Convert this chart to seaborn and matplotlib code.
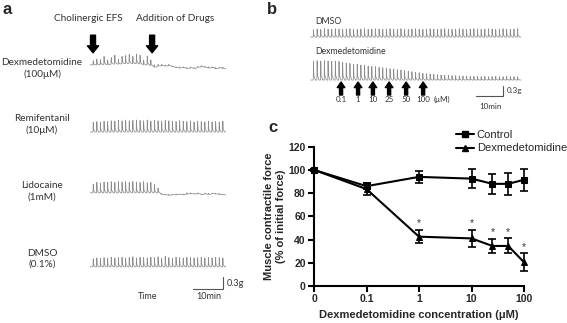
import numpy as np
import pandas as pd
import matplotlib.pyplot as plt
import seaborn as sns
from matplotlib.lines import Line2D
from matplotlib.ticker import NullLocator

# ---- panel c: dose response (mean +/- SEM, % of initial force) ----
conc = [0, 0.1, 1, 10, 25, 50, 100]
control_mean = [100, 86, 94, 92.5, 88, 88, 91.5]
control_sem = [1, 2.5, 5, 8, 8.5, 9.5, 9.5]
dex_mean = [100, 83.5, 42.5, 41, 34.5, 34.5, 20.5]
dex_sem = [1, 5, 5.5, 7, 6, 6.5, 7.5]
dex_signif = [False, False, True, True, True, True, True]
xtick_vals = [0, 0.1, 1, 10, 100]
xtick_labels = ['0', '0.1', '1', '10', '100']

# ---- panel a: organ bath traces (grams), one beat every 1.2 min ----
a_period = 1.2
a_efs_time = 1.0
a_drug_time = 20.7
a_labels = ['Dexmedetomidine\n(100\u03bcM)', 'Remifentanil\n(10\u03bcM)',
            'Lidocaine\n(1mM)', 'DMSO\n(0.1%)']
a_label_y = [5.58, 4.19, 2.51, 0.83]
a_dex_amp = [0.10, 0.14, 0.12, 0.20, 0.12, 0.16, 0.22, 0.12, 0.18, 0.20, 0.22, 0.18,
             0.24, 0.22, 0.12, 0.22, 0.14,
             0.06, 0.04, 0.03, 0.02, 0.03, 0.02, 0.02, 0.03, 0.02, 0.02, 0.03, 0.02,
             0.02, 0.03, 0.02, 0.03, 0.02, 0.03, 0.02, 0.03]
a_dex_base = [0.00, 0.00, 0.01, 0.01, 0.00, 0.02, 0.02, 0.02, 0.03, 0.03, 0.04, 0.03,
              0.03, 0.02, 0.00, 0.00, -0.02,
              -0.06, -0.03, -0.02, -0.03, -0.02, -0.05, -0.07, -0.08, -0.07, -0.09, -0.08,
              -0.09, -0.06, -0.05, -0.06, -0.08, -0.07, -0.10, -0.08, -0.09]
a_remi_amp = [0.24, 0.26, 0.25, 0.27, 0.26, 0.28, 0.27, 0.29, 0.28, 0.30, 0.28, 0.29,
              0.30, 0.29, 0.28, 0.30, 0.27, 0.29, 0.28, 0.27, 0.29, 0.28, 0.27, 0.26,
              0.28, 0.27, 0.26, 0.28, 0.25, 0.27, 0.26, 0.25, 0.27, 0.25, 0.26, 0.25, 0.27]
a_remi_base = [0.0] * 37
a_lido_amp = [0.22, 0.26, 0.24, 0.27, 0.26, 0.28, 0.26, 0.28, 0.27, 0.28, 0.26, 0.28,
              0.27, 0.26, 0.28, 0.25, 0.26, 0.22, 0.12,
              0.02, 0.01, 0.02, 0.01, 0.02, 0.01, 0.02, 0.03, 0.02, 0.01, 0.02, 0.01,
              0.02, 0.03, 0.01, 0.02, 0.02, 0.01]
a_lido_base = [0.0] * 19 + [-0.04, -0.05, -0.06, -0.05, -0.05, -0.04, -0.05, -0.03,
                            -0.02, -0.03, -0.02, -0.04, -0.03, -0.04, -0.02, -0.03,
                            -0.04, -0.05]
a_dmso_amp = [0.20, 0.22, 0.21, 0.23, 0.22, 0.24, 0.22, 0.23, 0.24, 0.22, 0.23, 0.25,
              0.22, 0.24, 0.23, 0.22, 0.24, 0.23, 0.25, 0.22, 0.26, 0.23, 0.22, 0.24,
              0.23, 0.22, 0.24, 0.23, 0.22, 0.23, 0.24, 0.22, 0.23, 0.22, 0.24, 0.23, 0.22]
a_dmso_base = [0.0] * 37
a_offsets = [5.68, 4.0, 2.48, 0.63]

# ---- panel b: cumulative dexmedetomidine (grams), one beat every 1.35 min ----
b_period = 1.35
b_dose_times = [11.5, 17.8, 23.3, 29.3, 35.6, 41.9]
b_dose_labels = ['0.1', '1', '10', '25', '50', '100']
b_dmso_amp = [0.22, 0.24, 0.23, 0.25, 0.24, 0.23, 0.25, 0.24, 0.23, 0.24, 0.25, 0.24,
              0.23, 0.24, 0.25, 0.23, 0.24, 0.25, 0.24, 0.23, 0.24, 0.25, 0.24, 0.23,
              0.25, 0.24, 0.23, 0.24, 0.25, 0.24, 0.23, 0.24, 0.25, 0.24, 0.23, 0.24,
              0.25, 0.24, 0.23, 0.24, 0.25, 0.24, 0.23, 0.24, 0.25, 0.24, 0.23, 0.24,
              0.25, 0.24, 0.23, 0.24, 0.25, 0.24, 0.23, 0.24, 0.25]
b_dex_amp = [0.57, 0.58, 0.57, 0.58, 0.57, 0.56, 0.57, 0.56,
             0.53, 0.51, 0.50, 0.48, 0.47,
             0.45, 0.44, 0.42, 0.41,
             0.40, 0.38, 0.37, 0.36,
             0.34, 0.33, 0.31, 0.30, 0.28,
             0.26, 0.25, 0.23, 0.22, 0.20,
             0.19, 0.18, 0.17, 0.16, 0.15,
             0.14, 0.14, 0.13, 0.13, 0.12,
             0.12, 0.12, 0.11, 0.11, 0.11,
             0.10, 0.11, 0.10, 0.10, 0.11, 0.10, 0.10, 0.11, 0.10, 0.10, 0.10]
b_offsets = [2.19, 0.9]


def beat_trace(amps, bases, period, t0, offset):
    # each beat: sharp twitch then slow relaxation back to baseline
    t, y = [t0 - 1.0], [offset + bases[0]]
    for i, (a, b) in enumerate(zip(amps, bases)):
        ti = t0 + i * period
        t += [ti, ti + 0.07 * period, ti + 0.16 * period, ti + 0.6 * period]
        y += [offset + b, offset + b + a, offset + b + 0.25 * a, offset + b]
    t.append(t0 + len(amps) * period)
    y.append(offset + bases[-1])
    return t, y


sns.set_style('ticks')
plt.rcParams['font.family'] = ['Liberation Sans', 'DejaVu Sans']
W, H = 567, 323
fig = plt.figure(figsize=(5.67, 3.23), dpi=100)
trace_font = ['Lato', 'DejaVu Sans']
trace_col = '#8c8c8c'
txt_col = '#333333'


def px_axes(x0, x1, y0, y1):
    # axes placed by pixel box (top-left origin)
    return fig.add_axes([x0 / W, 1 - y1 / H, (x1 - x0) / W, (y1 - y0) / H])


# ---------------- panel a ----------------
axa = px_axes(90, 226, 0, 323)
axa.set_xlim(0, 136 / 3)
axa.set_ylim(-31 / 40, 292 / 40)
axa.axis('off')
a_series = [(a_dex_amp, a_dex_base), (a_remi_amp, a_remi_base),
            (a_lido_amp, a_lido_base), (a_dmso_amp, a_dmso_base)]
for (amps, bases), off, lab, ly in zip(a_series, a_offsets, a_labels, a_label_y):
    t, y = beat_trace(amps, bases, a_period, 1.0, off)
    axa.plot(t, y, color=trace_col, lw=0.55)
    axa.annotate(lab, xy=(42 / W, ly), xycoords=('figure fraction', 'data'),
                 ha='center', va='center', fontsize=7.2, family=trace_font,
                 color=txt_col, linespacing=1.35, annotation_clip=False)
for tt in [a_efs_time, a_drug_time]:
    axa.annotate('', xy=(tt, 5.98), xytext=(tt, 6.42),
                 arrowprops=dict(arrowstyle='simple,head_width=0.8,head_length=0.5,tail_width=0.36',
                                 color='black', shrinkA=0, shrinkB=0), annotation_clip=False)
axa.text(-0.7, 6.83, 'Cholinergic EFS', ha='center', va='center', fontsize=7.2,
         family=trace_font, color=txt_col)
axa.text(28.5, 6.83, 'Addition of Drugs', ha='center', va='center', fontsize=7.2,
         family=trace_font, color=txt_col)
# scale bar
axa.plot([34.3, 44.3, 44.3], [0.075, 0.075, 0.375], color='#555555', lw=0.8)
axa.text(45.6, 0.2, '0.3g', ha='left', va='center', fontsize=6.5, family=trace_font,
         color=txt_col, clip_on=False)
axa.text(39.6, -0.12, '10min', ha='center', va='center', fontsize=6.5,
         family=trace_font, color=txt_col)
axa.text(19.3, -0.12, 'Time', ha='center', va='center', fontsize=6.5,
         family=trace_font, color=txt_col)

# ---------------- panel b ----------------
axb = px_axes(310, 524, 0, 125)
axb.set_xlim(0, 214 / 2.7)
axb.set_ylim(-15 / 33.3, 110 / 33.3)
axb.axis('off')
for amps, off in zip([b_dmso_amp, b_dex_amp], b_offsets):
    t, y = beat_trace(amps, [0.0] * len(amps), b_period, 1.2, off)
    axb.plot(t, y, color=trace_col, lw=0.55)
axb.text(1.8, 2.67, 'DMSO', ha='left', va='center', fontsize=6.3, family=trace_font,
         color=txt_col)
axb.text(1.8, 1.77, 'Dexmedetomidine', ha='left', va='center', fontsize=6.3,
         family=trace_font, color=txt_col)
for tt, lab in zip(b_dose_times, b_dose_labels):
    axb.annotate('', xy=(tt, 0.84), xytext=(tt, 0.45),
                 arrowprops=dict(arrowstyle='simple,head_width=0.55,head_length=0.4,tail_width=0.22',
                                 color='black', shrinkA=0, shrinkB=0), annotation_clip=False)
    axb.text(tt, 0.32, lab, ha='center', va='center', fontsize=5.8, family=trace_font,
             color=txt_col)
axb.text(48.9, 0.32, '(\u03bcM)', ha='center', va='center', fontsize=5.8,
         family=trace_font, color=txt_col)
axb.plot([61.5, 71.5, 71.5], [0.42, 0.42, 0.72], color='#555555', lw=0.8)
axb.text(73.0, 0.6, '0.3g', ha='left', va='center', fontsize=5.8, family=trace_font,
         color=txt_col)
axb.text(66.7, 0.12, '10min', ha='center', va='center', fontsize=5.8, family=trace_font,
         color=txt_col)

# ---------------- panel c ----------------
axc = px_axes(314, 524, 146.7, 286)
axc.set_xscale('log')
plot_x = [c if c > 0 else 0.01 for c in conc]
tick_x = [c if c > 0 else 0.01 for c in xtick_vals]
df = pd.DataFrame({
    'conc': plot_x * 2,
    'force': control_mean + dex_mean,
    'group': ['Control'] * len(conc) + ['Dexmedetomidine'] * len(conc),
})
sns.lineplot(data=df, x='conc', y='force', hue='group', style='group',
             markers={'Control': 's', 'Dexmedetomidine': '^'}, dashes=False,
             palette={'Control': 'black', 'Dexmedetomidine': 'black'},
             markersize=5, linewidth=1.5, markeredgecolor='black', legend=False,
             clip_on=False, ax=axc)
for m, s in [(control_mean, control_sem), (dex_mean, dex_sem)]:
    axc.errorbar(plot_x, m, yerr=s, fmt='none', ecolor='black', elinewidth=1.2,
                 capsize=3.2, capthick=1.2, clip_on=False)
for x, m, s, sig in zip(plot_x, dex_mean, dex_sem, dex_signif):
    if sig:
        axc.text(x, m + s + 1.5, '*', ha='center', va='bottom', fontsize=7.5,
                 color='#333333')
axc.set_xlim(0.01, 100)
axc.set_ylim(0, 120)
axc.set_xticks(tick_x)
axc.set_xticklabels(xtick_labels)
axc.xaxis.set_minor_locator(NullLocator())
axc.set_yticks(range(0, 121, 20))
axc.tick_params(width=1.5, length=4, labelsize=7.5, pad=2, color='black')
for lab in axc.get_xticklabels() + axc.get_yticklabels():
    lab.set_fontweight('bold')
for sp in ['left', 'bottom']:
    axc.spines[sp].set_linewidth(1.5)
    axc.spines[sp].set_color('black')
sns.despine(ax=axc)
axc.set_xlabel('Dexmedetomidine concentration (\u03bcM)', fontsize=8,
               fontweight='bold', labelpad=4)
axc.set_ylabel('Muscle contractile force\n(% of initial force)', fontsize=8,
               fontweight='bold', labelpad=2)

handles = [Line2D([], [], color='black', lw=1.5, marker='s', markersize=4),
           Line2D([], [], color='black', lw=1.5, marker='^', markersize=4)]
fig.legend(handles, ['Control', 'Dexmedetomidine'], loc='upper right',
           bbox_to_anchor=(1.01, 1 - 124 / H), frameon=False, fontsize=8,
           handlelength=1.6, handletextpad=0.3, labelspacing=0.35, borderpad=0)

# panel letters
for lab, x, y in [('a', 7, 10), ('b', 272, 10), ('c', 273, 128)]:
    fig.text(x / W, 1 - y / H, lab, ha='center', va='center', fontsize=12,
             fontweight='bold')

fig.savefig('out.png', dpi=100)
